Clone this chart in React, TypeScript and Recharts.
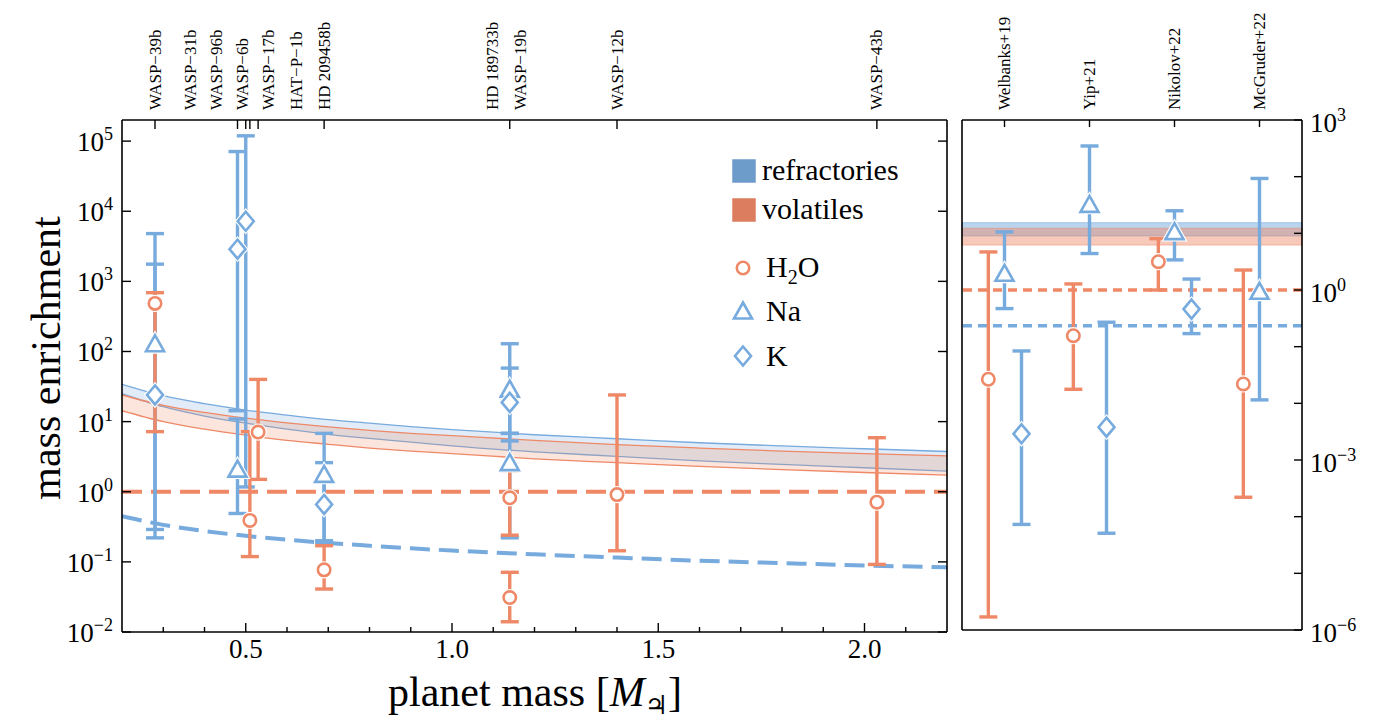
import React from 'react';
import {
  Area,
  ComposedChart,
  ErrorBar,
  Line,
  ReferenceArea,
  ReferenceLine,
  Scatter,
  XAxis,
  YAxis,
} from 'recharts';

const BLUE = '#77AADD';
const ORANGE = '#EE8866';
const FONT = '"Liberation Serif", "Times New Roman", "DejaVu Serif", serif';

// left panel plot is 825px wide for 2.0 Jupiter masses; used to spread the planet names
const LEFT_PX_PER_MJ = 825 / 2.0;

// top axis of left panel: planets
const planetNames = ['WASP−39b', 'WASP−31b', 'WASP−96b', 'WASP−6b', 'WASP−17b', 'HAT−P−1b', 'HD 209458b', 'HD 189733b', 'WASP−19b', 'WASP−12b', 'WASP−43b'];
const planetMass = [0.28, 0.48, 0.48, 0.5, 0.51, 0.53, 0.69, 1.14, 1.14, 1.4, 2.03];
const planetLabelAt = [0.28, 0.365, 0.43, 0.493, 0.556, 0.622, 0.69, 1.099, 1.165, 1.4, 2.03];
const planetTicks = [0.28, 0.48, 0.5, 0.51, 0.53, 0.69, 1.14, 1.4, 2.03];

const massTicks = [0.3, 0.4, 0.5, 0.6, 0.7, 0.8, 0.9, 1.0, 1.1, 1.2, 1.3, 1.4, 1.5, 1.6, 1.7, 1.8, 1.9, 2.0, 2.1];
const massLabels = [0.5, 1.0, 1.5, 2.0];
const leftYTicks = [1e-2, 1e-1, 1, 1e1, 1e2, 1e3, 1e4, 1e5];
const rightYTicks = [1e-6, 1e-5, 1e-4, 1e-3, 1e-2, 1e-1, 1, 1e1, 1e2, 1e3];

// H2O (planet mass, value, lower, upper)
const h2oMass = [0.28, 0.51, 0.53, 0.69, 1.14, 1.14, 1.4, 2.03];
const h2oVal = [485, 0.39, 7.1, 0.077, 0.031, 0.82, 0.91, 0.71];
const h2oLo = [7.2, 0.119, 1.5, 0.041, 0.014, 0.24, 0.144, 0.092];
const h2oHi = [690, 7.2, 40, 0.17, 0.071, 2.0, 24, 5.9];

// Na
const naMass = [0.28, 0.48, 0.69, 1.14, 1.14];
const naVal = [129, 2.1, 1.77, 29, 2.6];
const naLo = [0.22, 0.49, 0.2, 5.3, 0.22];
const naHi = [4800, 10.9, 6.8, 129, 6.8];

// K
const kMass = [0.28, 0.48, 0.5, 0.69, 1.14];
const kVal = [24, 2880, 7190, 0.66, 18.8];
const kLo = [0.29, 14.3, 1.17, 0.19, 6.8];
const kHi = [1760, 71000, 119000, 2.6, 58];

// model bands vs planet mass
const curveMass = [0.2, 0.3, 0.4, 0.5, 0.6, 0.7, 0.8, 0.9, 1.0, 1.2, 1.4, 1.6, 1.8, 2.0, 2.2];
const refrHi = [34, 23.4, 18.0, 14.6, 12.4, 10.7, 9.5, 8.5, 7.7, 6.5, 5.7, 5.0, 4.5, 4.1, 3.75];
const refrLo = [25, 16.3, 12.0, 9.5, 7.8, 6.6, 5.75, 5.1, 4.5, 3.7, 3.2, 2.75, 2.45, 2.2, 1.97];
const volHi = [24, 17.1, 13.5, 11.2, 9.6, 8.4, 7.5, 6.8, 6.3, 5.4, 4.7, 4.2, 3.8, 3.5, 3.24];
const volLo = [14.3, 10.0, 7.8, 6.4, 5.4, 4.75, 4.2, 3.8, 3.5, 2.95, 2.6, 2.3, 2.07, 1.88, 1.73];
const stellarRefr = [0.447, 0.337, 0.275, 0.235, 0.207, 0.186, 0.17, 0.156, 0.145, 0.128, 0.115, 0.104, 0.096, 0.089, 0.0835];
const stellarVol = 1.0;

// right panel: WASP-39b style retrieval studies
const studies = ['Welbanks+19', 'Yip+21', 'Nikolov+22', 'McGruder+22'];
const h2oStudyVal = [0.0266, 0.156, 3.16, 0.022];
const h2oStudyLo = [1.7e-6, 0.0177, 1.0, 2.2e-4];
const h2oStudyHi = [4.7, 1.28, 8.05, 2.25];
const naStudyVal = [1.97, 32.5, 10.7, 0.95];
const naStudyLo = [0.47, 4.4, 3.4, 0.0115];
const naStudyHi = [10.6, 348, 25, 93];
const kStudyVal = [0.0029, 0.0038, 0.46, null];
const kStudyLo = [7.3e-5, 5.1e-5, 0.17, null];
const kStudyHi = [0.084, 0.27, 1.56, null];
const refrBandR = [9.0, 15.4];
const volBandR = [6.2, 12.3];
const stellarVolR = 1.0;
const stellarRefrR = 0.234;

const curveData = curveMass.map((x, i) => ({
  x,
  refr: [refrLo[i], refrHi[i]],
  vol: [volLo[i], volHi[i]],
  sRefr: stellarRefr[i],
}));

const toPoints = (xs: number[], vs: number[], los: number[], his: number[]) =>
  xs.map((x, i) => ({ x, v: vs[i], err: [vs[i] - los[i], his[i] - vs[i]] }));

const studyPoints = (vs: any[], los: any[], his: any[], shift: number) =>
  studies
    .map((_, i) => ({ i, v: vs[i], lo: los[i], hi: his[i] }))
    .filter((d) => d.v != null)
    .map((d) => ({ x: d.i + 0.5 + shift, v: d.v, err: [d.v - d.lo, d.hi - d.v] }));

const h2oPts = toPoints(h2oMass, h2oVal, h2oLo, h2oHi);
const naPts = toPoints(naMass, naVal, naLo, naHi);
const kPts = toPoints(kMass, kVal, kLo, kHi);
const h2oStudyPts = studyPoints(h2oStudyVal, h2oStudyLo, h2oStudyHi, -0.19);
const naStudyPts = studyPoints(naStudyVal, naStudyLo, naStudyHi, 0);
const kStudyPts = studyPoints(kStudyVal, kStudyLo, kStudyHi, 0.2);

function Marker({ kind, cx, cy, color }: any) {
  if (cx == null || cy == null) return null;
  const sw = 2.6;
  let shape: any;
  if (kind === 'circle') {
    shape = (s: string, w: number) => <circle cx={cx} cy={cy} r={6.2} fill="#fff" stroke={s} strokeWidth={w} />;
  } else if (kind === 'triangle') {
    const p = `${cx},${cy - 8.5} ${cx + 9},${cy + 7.5} ${cx - 9},${cy + 7.5}`;
    shape = (s: string, w: number) => <polygon points={p} fill="#fff" stroke={s} strokeWidth={w} strokeLinejoin="miter" />;
  } else {
    const p = `${cx},${cy - 9.5} ${cx + 8},${cy} ${cx},${cy + 9.5} ${cx - 8},${cy}`;
    shape = (s: string, w: number) => <polygon points={p} fill="#fff" stroke={s} strokeWidth={w} />;
  }
  return (
    <g>
      {shape('#fff', sw + 2.2)}
      {shape(color, sw)}
    </g>
  );
}

const sup = (v: number) => {
  const e = Math.round(Math.log10(v));
  return e < 0 ? '−' + Math.abs(e) : String(e);
};

function LeftPowTick({ x, y, payload }: any) {
  return (
    <g>
      <line x1={x} x2={x + 9} y1={y} y2={y} stroke="#000" strokeWidth={1.4} />
      <text x={x - 9} y={y + 10} textAnchor="end" fontSize={27} fontFamily={FONT} fill="#000">
        10<tspan fontSize={18} dy={-11}>{sup(payload.value)}</tspan>
      </text>
    </g>
  );
}

function InTickLeftward({ x, y }: any) {
  return <line x1={x} x2={x - 9} y1={y} y2={y} stroke="#000" strokeWidth={1.4} />;
}

function RightPowTick({ x, y, payload }: any) {
  const e = Math.round(Math.log10(payload.value));
  return (
    <g>
      <line x1={x} x2={x - 8} y1={y} y2={y} stroke="#000" strokeWidth={1.4} />
      {e % 3 === 0 && (
        <text x={x + 8} y={y + 12} textAnchor="start" fontSize={27} fontFamily={FONT} fill="#000">
          10<tspan fontSize={18} dy={-11}>{sup(payload.value)}</tspan>
        </text>
      )}
    </g>
  );
}

function MassTick({ x, y, payload }: any) {
  const major = massLabels.some((m) => Math.abs(m - payload.value) < 1e-6);
  return (
    <g>
      <line x1={x} x2={x} y1={y} y2={y - (major ? 9 : 5)} stroke="#000" strokeWidth={1.4} />
      {major && (
        <text x={x} y={y + 26} textAnchor="middle" fontSize={27} fontFamily={FONT} fill="#000">
          {payload.value.toFixed(1)}
        </text>
      )}
    </g>
  );
}

function PlanetTick({ x, y, payload }: any) {
  const names = planetNames
    .map((n, i) => ({ n, i }))
    .filter((d) => Math.abs(planetMass[d.i] - payload.value) < 1e-6);
  return (
    <g>
      <line x1={x} x2={x} y1={y} y2={y + 9} stroke="#000" strokeWidth={1.4} />
      {names.map((d) => {
        const lx = x + (planetLabelAt[d.i] - planetMass[d.i]) * LEFT_PX_PER_MJ;
        return (
          <text
            key={d.n}
            x={lx}
            y={110}
            transform={`rotate(-90 ${lx} 110)`}
            textAnchor="start"
            dominantBaseline="central"
            fontSize={17}
            fontFamily={FONT}
            fill="#000"
          >
            {d.n}
          </text>
        );
      })}
    </g>
  );
}

function StudyTick({ x, y, payload }: any) {
  const name = studies[Math.round(payload.value - 0.5)];
  return (
    <g>
      <line x1={x} x2={x} y1={y} y2={y + 7} stroke="#000" strokeWidth={1.4} />
      <text
        x={x}
        y={110}
        transform={`rotate(-90 ${x} 110)`}
        textAnchor="start"
        dominantBaseline="central"
        fontSize={17}
        fontFamily={FONT}
        fill="#000"
      >
        {name}
      </text>
    </g>
  );
}

const axisLine = { stroke: '#000', strokeWidth: 1.6 };

function Legend() {
  const sq = (y: number, c: string) => (
    <rect x={733} y={y} width={22} height={22} fill={c} stroke={c} strokeWidth={1.5} style={{ filter: 'brightness(0.92)' }} />
  );
  return (
    <g fontFamily={FONT} fontSize={30} fill="#000">
      {sq(160, BLUE)}
      <text x={762} y={180}>refractories</text>
      {sq(199, ORANGE)}
      <text x={762} y={219}>volatiles</text>
      <Marker kind="circle" cx={743} cy={268} color={ORANGE} />
      <text x={766} y={277}>
        H<tspan fontSize={20} dy={7}>2</tspan>
        <tspan dy={-7}>O</tspan>
      </text>
      <Marker kind="triangle" cx={743} cy={311} color={BLUE} />
      <text x={766} y={321}>Na</text>
      <Marker kind="diamond" cx={743} cy={356} color={BLUE} />
      <text x={766} y={366}>K</text>
    </g>
  );
}

export default function App() {
  return (
    <div style={{ position: 'absolute', left: 0, top: 0, width: 1376, height: 727, background: '#fff', fontFamily: FONT }}>
      <div style={{ position: 'absolute', left: 0, top: 0 }}>
        <ComposedChart width={960} height={727} data={curveData} margin={{ top: 0, right: 0, bottom: 0, left: 0 }}>
          <XAxis
            xAxisId="b"
            dataKey="x"
            type="number"
            domain={[0.2, 2.2]}
            allowDataOverflow
            ticks={massTicks}
            interval={0}
            height={95}
            tickSize={0}
            tickMargin={0}
            tickLine={false}
            axisLine={axisLine}
            tick={(p: any) => <MassTick {...p} />}
          />
          <XAxis
            xAxisId="t"
            orientation="top"
            dataKey="x"
            type="number"
            domain={[0.2, 2.2]}
            allowDataOverflow
            ticks={planetTicks}
            interval={0}
            height={120}
            tickSize={0}
            tickMargin={0}
            tickLine={false}
            axisLine={axisLine}
            tick={(p: any) => <PlanetTick {...p} />}
          />
          <YAxis
            yAxisId="l"
            type="number"
            scale="log"
            domain={[1e-2, 2e5]}
            allowDataOverflow
            ticks={leftYTicks}
            interval={0}
            width={122}
            tickSize={0}
            tickMargin={0}
            tickLine={false}
            axisLine={axisLine}
            tick={(p: any) => <LeftPowTick {...p} />}
          />
          <YAxis
            yAxisId="r"
            orientation="right"
            type="number"
            scale="log"
            domain={[1e-2, 2e5]}
            allowDataOverflow
            ticks={leftYTicks}
            interval={0}
            width={13}
            tickSize={0}
            tickMargin={0}
            tickLine={false}
            axisLine={axisLine}
            tick={(p: any) => <InTickLeftward {...p} />}
          />
          <Area xAxisId="b" yAxisId="l" type="monotone" dataKey="refr" fill={BLUE} fillOpacity={0.22} stroke={BLUE} strokeWidth={1.3} dot={false} activeDot={false} isAnimationActive={false} />
          <Area xAxisId="b" yAxisId="l" type="monotone" dataKey="vol" fill={ORANGE} fillOpacity={0.22} stroke={ORANGE} strokeWidth={1.3} dot={false} activeDot={false} isAnimationActive={false} />
          <ReferenceLine xAxisId="b" yAxisId="l" y={stellarVol} stroke={ORANGE} strokeWidth={4} strokeDasharray="20 9" />
          <Line xAxisId="b" yAxisId="l" type="monotone" dataKey="sRefr" stroke={BLUE} strokeWidth={4} strokeDasharray="20 9" dot={false} activeDot={false} isAnimationActive={false} />
          <Scatter xAxisId="b" yAxisId="l" data={naPts} dataKey="v" isAnimationActive={false} shape={(p: any) => <Marker kind="triangle" cx={p.cx} cy={p.cy} color={BLUE} />}>
            <ErrorBar dataKey="err" direction="y" width={9} stroke={BLUE} strokeWidth={3.4} isAnimationActive={false} />
          </Scatter>
          <Scatter xAxisId="b" yAxisId="l" data={kPts} dataKey="v" isAnimationActive={false} shape={(p: any) => <Marker kind="diamond" cx={p.cx} cy={p.cy} color={BLUE} />}>
            <ErrorBar dataKey="err" direction="y" width={9} stroke={BLUE} strokeWidth={3.4} isAnimationActive={false} />
          </Scatter>
          <Scatter xAxisId="b" yAxisId="l" data={h2oPts} dataKey="v" isAnimationActive={false} shape={(p: any) => <Marker kind="circle" cx={p.cx} cy={p.cy} color={ORANGE} />}>
            <ErrorBar dataKey="err" direction="y" width={9} stroke={ORANGE} strokeWidth={3.4} isAnimationActive={false} />
          </Scatter>
        </ComposedChart>
      </div>

      <div style={{ position: 'absolute', left: 961, top: 0 }}>
        <ComposedChart width={415} height={727} margin={{ top: 0, right: 0, bottom: 0, left: 0 }}>
          <XAxis xAxisId="b" dataKey="x" type="number" domain={[0, 4]} allowDataOverflow height={97} tick={false} tickLine={false} axisLine={axisLine} />
          <XAxis
            xAxisId="t"
            orientation="top"
            dataKey="x"
            type="number"
            domain={[0, 4]}
            allowDataOverflow
            ticks={[0.5, 1.5, 2.5, 3.5]}
            interval={0}
            height={120}
            tickSize={0}
            tickMargin={0}
            tickLine={false}
            axisLine={axisLine}
            tick={(p: any) => <StudyTick {...p} />}
          />
          <YAxis yAxisId="l" type="number" scale="log" domain={[1e-6, 1e3]} allowDataOverflow width={1} tick={false} tickLine={false} axisLine={axisLine} />
          <YAxis
            yAxisId="r"
            orientation="right"
            type="number"
            scale="log"
            domain={[1e-6, 1e3]}
            allowDataOverflow
            ticks={rightYTicks}
            interval={0}
            width={74}
            tickSize={0}
            tickMargin={0}
            tickLine={false}
            axisLine={axisLine}
            tick={(p: any) => <RightPowTick {...p} />}
          />
          <ReferenceArea xAxisId="b" yAxisId="r" y1={refrBandR[0]} y2={refrBandR[1]} fill={BLUE} fillOpacity={0.5} stroke={BLUE} strokeOpacity={0.6} strokeWidth={1} />
          <ReferenceArea xAxisId="b" yAxisId="r" y1={volBandR[0]} y2={volBandR[1]} fill={ORANGE} fillOpacity={0.45} stroke={ORANGE} strokeOpacity={0.5} strokeWidth={1} />
          <ReferenceLine xAxisId="b" yAxisId="r" y={stellarVolR} stroke={ORANGE} strokeWidth={3.5} strokeDasharray="9 6" />
          <ReferenceLine xAxisId="b" yAxisId="r" y={stellarRefrR} stroke={BLUE} strokeWidth={3.5} strokeDasharray="9 6" />
          <Scatter xAxisId="b" yAxisId="r" data={naStudyPts} dataKey="v" isAnimationActive={false} shape={(p: any) => <Marker kind="triangle" cx={p.cx} cy={p.cy} color={BLUE} />}>
            <ErrorBar dataKey="err" direction="y" width={9} stroke={BLUE} strokeWidth={3.4} isAnimationActive={false} />
          </Scatter>
          <Scatter xAxisId="b" yAxisId="r" data={kStudyPts} dataKey="v" isAnimationActive={false} shape={(p: any) => <Marker kind="diamond" cx={p.cx} cy={p.cy} color={BLUE} />}>
            <ErrorBar dataKey="err" direction="y" width={9} stroke={BLUE} strokeWidth={3.4} isAnimationActive={false} />
          </Scatter>
          <Scatter xAxisId="b" yAxisId="r" data={h2oStudyPts} dataKey="v" isAnimationActive={false} shape={(p: any) => <Marker kind="circle" cx={p.cx} cy={p.cy} color={ORANGE} />}>
            <ErrorBar dataKey="err" direction="y" width={9} stroke={ORANGE} strokeWidth={3.4} isAnimationActive={false} />
          </Scatter>
        </ComposedChart>
      </div>

      <svg width={1376} height={727} style={{ position: 'absolute', left: 0, top: 0, pointerEvents: 'none' }}>
        <text x={60} y={358} transform="rotate(-90 60 358)" textAnchor="middle" fontSize={42} fontFamily={FONT} fill="#000">
          mass enrichment
        </text>
        <text x={535} y={706} textAnchor="middle" fontSize={42} fontFamily={FONT} fill="#000">
          planet mass [<tspan fontStyle="italic">M</tspan>
          <tspan fontSize={26} dy={8}>♃</tspan>
          <tspan dy={-8}>]</tspan>
        </text>
        <Legend />
      </svg>
    </div>
  );
}
